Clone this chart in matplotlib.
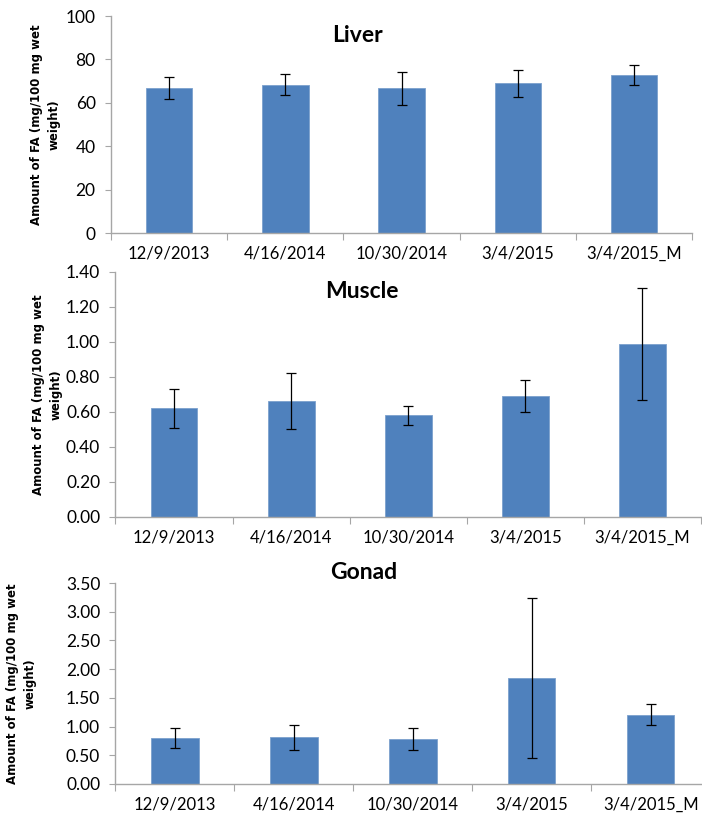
import matplotlib
matplotlib.use("Agg")
import matplotlib.pyplot as plt
from matplotlib.ticker import FormatStrFormatter, FixedLocator

dates = ['12/9/2013', '4/16/2014', '10/30/2014', '3/4/2015', '3/4/2015_M']

liver_mean = [66.9, 68.4, 66.7, 68.9, 73.0]
liver_err = [5.2, 5.0, 7.5, 6.3, 4.6]

muscle_mean = [0.62, 0.66, 0.58, 0.69, 0.99]
muscle_err = [0.11, 0.16, 0.055, 0.09, 0.32]

gonad_mean = [0.80, 0.81, 0.78, 1.85, 1.21]
gonad_err = [0.18, 0.21, 0.19, 1.39, 0.18]

bar_color = '#4F81BD'
spine_color = '#A6A6A6'
ylabel = "Amount of FA (mg/100 mg wet\nweight)"


def panel(fig, rect, means, errs, title, title_xy, ymax, ystep, fmt, label_x):
    ax = fig.add_axes(rect)
    x = list(range(len(dates)))
    ax.bar(x, means, width=0.4, color=bar_color, edgecolor='#7BA0CD', linewidth=0.6, zorder=2)
    ax.errorbar(x, means, yerr=errs, fmt='none', ecolor='black',
                elinewidth=0.9, capsize=3.5, capthick=0.9, zorder=3)

    ax.set_xlim(-0.5, len(dates) - 0.5)
    ax.set_ylim(0, ymax)
    n = int(round(ymax / ystep))
    ax.set_yticks([i * ystep for i in range(n + 1)])
    ax.yaxis.set_major_formatter(FormatStrFormatter(fmt))

    # ticks at category borders, labels at category centres
    ax.xaxis.set_major_locator(FixedLocator([i - 0.5 for i in range(len(dates) + 1)]))
    ax.xaxis.set_major_formatter(plt.NullFormatter())
    ax.xaxis.set_minor_locator(FixedLocator(x))
    ax.set_xticklabels(dates, minor=True)
    ax.tick_params(axis='x', which='major', length=5, color=spine_color, direction='out')
    ax.tick_params(axis='x', which='minor', length=0, pad=9, labelsize=12)
    ax.tick_params(axis='y', length=4, color=spine_color, pad=7, labelsize=12.5)

    for s in ['top', 'right']:
        ax.spines[s].set_visible(False)
    for s in ['left', 'bottom']:
        ax.spines[s].set_color(spine_color)
        ax.spines[s].set_linewidth(1.0)

    ax.set_ylabel(ylabel, fontfamily='DejaVu Sans', fontweight='bold',
                  fontsize=8.5, linespacing=1.45)
    ax.yaxis.set_label_coords(label_x, 0.5)

    ax.text(title_xy[0], title_xy[1], title, transform=ax.transAxes,
            ha='center', va='center', fontsize=16.5, fontweight='bold')
    return ax


plt.rcParams['font.family'] = ['Lato', 'DejaVu Sans']

fig = plt.figure(figsize=(7.02, 8.17), dpi=100)

panel(fig, [0.158, 0.7148, 0.828, 0.2656], liver_mean, liver_err, 'Liver',
      (0.425, 0.912), 100, 20, '%d', -0.086)
panel(fig, [0.1645, 0.3672, 0.834, 0.3002], muscle_mean, muscle_err, 'Muscle',
      (0.421, 0.921), 1.4, 0.2, '%.2f', -0.091)
panel(fig, [0.1645, 0.0404, 0.847, 0.246], gonad_mean, gonad_err, 'Gonad',
      (0.418, 1.05), 3.5, 0.5, '%.2f', -0.132)

fig.savefig("out.png", dpi=100)
plt.close()
